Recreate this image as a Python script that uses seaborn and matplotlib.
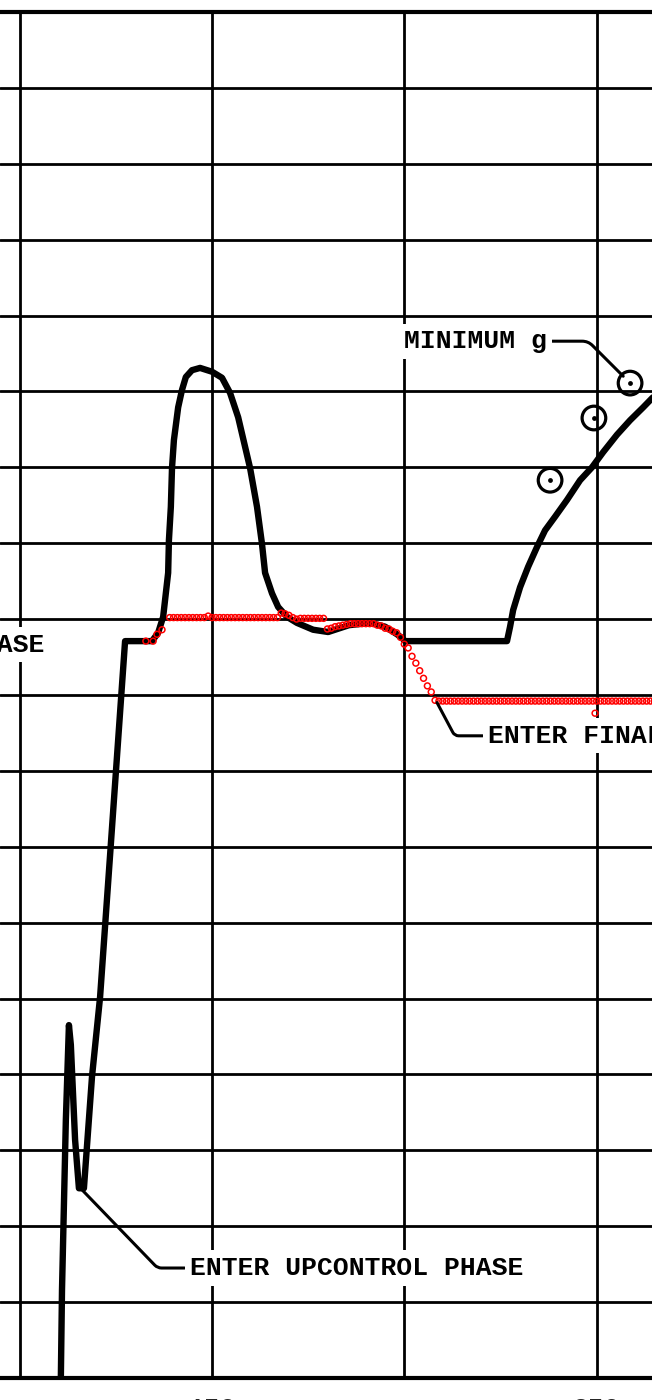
import numpy as np
import seaborn as sns
import matplotlib
matplotlib.use("Agg")
import matplotlib.pyplot as plt

# black trace (time, value)
trace_t = [110.7, 111.0, 112.0, 112.8, 113.3, 114.4, 115.4, 116.7, 118.8, 120.9,
           123.5, 125.6, 127.4, 134.4, 136.0, 137.3, 138.6, 138.8, 139.3, 139.6,
           140.1, 141.2, 142.2, 143.2, 144.8, 146.9, 150.0, 152.6, 154.7, 156.8,
           159.9, 161.7, 163.0, 163.8, 165.6, 167.2, 169.5, 172.1, 176.3, 180.2,
           185.6, 191.1, 195.0, 198.1, 199.4, 200.2, 226.7, 227.5, 228.3, 230.1,
           232.2, 234.5, 236.6, 239.2, 242.3, 245.7, 248.8, 251.7, 255.3, 258.7,
           262.1, 264.4, 266.0]
trace_y = [0.0, 1.16, 3.40, 4.65, 4.39, 3.14, 2.50, 2.50, 3.97, 5.02,
           6.89, 8.41, 9.71, 9.71, 9.82, 10.03, 10.61, 11.04, 11.48, 11.99,
           12.36, 12.79, 13.02, 13.19, 13.28, 13.31, 13.26, 13.18, 12.98, 12.66,
           11.99, 11.48, 10.99, 10.61, 10.34, 10.16, 10.03, 9.95, 9.86, 9.83,
           9.92, 9.95, 9.90, 9.80, 9.75, 9.71, 9.71, 9.90, 10.12, 10.42,
           10.69, 10.95, 11.17, 11.35, 11.57, 11.83, 12.00, 12.20, 12.43, 12.62,
           12.79, 12.91, 12.99]

red_t = [132.8, 134.7, 135.7, 137.0,
         139, 140, 141, 142, 143, 144, 145, 146, 147, 148, 149, 150, 151, 152,
         153, 154, 155, 156, 157, 158, 159, 160, 161, 162, 163, 164, 165, 166, 167,
         168, 169, 170, 171, 172, 173, 174, 175, 176, 177, 178, 179,
         180, 181, 182, 183, 184, 185, 186, 187, 188, 189, 190, 191, 192, 193,
         194, 195, 196, 197, 198, 199, 200, 201, 202, 203, 204, 205, 206, 207, 208,
         209, 210, 211, 212, 213, 214, 215, 216, 217, 218, 219, 220, 221, 222,
         223, 224, 225, 226, 227, 228, 229, 230, 231, 232, 233, 234, 235, 236,
         237, 238, 239, 240, 241, 242, 243, 244, 245, 246, 247, 248, 249, 250,
         251, 252, 253, 254, 255, 256, 257, 258, 259, 260, 261, 262, 263, 264, 265,
         249.6]
red_y = [9.71, 9.71, 9.80, 9.86,
         10.02, 10.02, 10.02, 10.02, 10.02, 10.02, 10.02, 10.02, 10.02, 10.02,
         10.04, 10.02, 10.02, 10.02, 10.02, 10.02, 10.02, 10.02, 10.02, 10.02,
         10.02, 10.02, 10.02, 10.02, 10.02, 10.02, 10.02, 10.02, 10.02,
         10.08, 10.07, 10.05, 10.02, 10.00, 10.01, 10.01, 10.01, 10.01, 10.01,
         10.01, 10.01,
         9.87, 9.88, 9.90, 9.91, 9.92, 9.93, 9.94, 9.94, 9.94, 9.94, 9.94, 9.94,
         9.94, 9.92, 9.91, 9.88, 9.87, 9.84, 9.82, 9.76, 9.67, 9.62, 9.51, 9.42,
         9.32, 9.22, 9.12, 9.04, 8.93,
         8.92, 8.92, 8.92, 8.92, 8.92, 8.92, 8.92, 8.92, 8.92, 8.92, 8.92, 8.92,
         8.92, 8.92, 8.92, 8.92, 8.92, 8.92, 8.92, 8.92, 8.92, 8.92, 8.92, 8.92,
         8.92, 8.92, 8.92, 8.92, 8.92, 8.92, 8.92, 8.92, 8.92, 8.92, 8.92, 8.92,
         8.92, 8.92, 8.92, 8.92, 8.92, 8.92, 8.92, 8.92, 8.92, 8.92, 8.92, 8.92,
         8.92, 8.92, 8.92, 8.92, 8.92, 8.92, 8.92, 8.92, 8.92,
         8.76]

# flight points (circle with dot)
flight_t = [237.9, 249.3, 258.7]
flight_y = [11.83, 12.65, 13.11]

x_ticks = [100, 150, 200, 250]
x_labels = ["", "150", "", "250"]

sns.set_style("white")
plt.rcParams["font.family"] = ["Liberation Mono", "DejaVu Sans Mono"]

fig = plt.figure(figsize=(6.52, 14), dpi=100)
ax = fig.add_axes([0, 22 / 1400, 1, 1366 / 1400])

sns.lineplot(x=trace_t, y=trace_y, sort=False, estimator=None, color="black",
             lw=4.6, ax=ax, zorder=3, solid_joinstyle="round", solid_capstyle="round")
sns.scatterplot(x=red_t, y=red_y, marker="o", s=18, facecolor="none",
                edgecolor="red", linewidth=1.1, ax=ax, zorder=4)
sns.scatterplot(x=flight_t, y=flight_y, marker="o", s=290, facecolor="none",
                edgecolor="black", linewidth=2.3, ax=ax, zorder=5)
sns.scatterplot(x=flight_t, y=flight_y, marker="o", s=12, color="black",
                linewidth=0, ax=ax, zorder=5)

ax.set_xlim(94.88, 264.40)
ax.set_ylim(0, 18)
ax.set_xticks(x_ticks)
ax.set_xticklabels(x_labels, fontsize=19, fontweight="bold")
ax.set_yticks(np.arange(0, 19))
ax.set_yticklabels([])
ax.tick_params(length=0, pad=13.8)
ax.grid(True, color="black", lw=2.0)
ax.set_axisbelow(True)
for side in ["left", "right"]:
    ax.spines[side].set_visible(False)
for side in ["top", "bottom"]:
    ax.spines[side].set_linewidth(3.0)
    ax.spines[side].set_color("black")
ax.set_xlabel("")
ax.set_ylabel("")

txt = dict(fontsize=19, fontweight="bold", color="black")
box = dict(facecolor="white", edgecolor="none", pad=4)
lead = dict(arrowstyle="-", color="black", lw=2.2, shrinkA=0)

ax.annotate("MINIMUM g", xy=(258.7, 13.11), xytext=(199.9, 13.57),
            ha="left", va="baseline", bbox=box, zorder=6,
            arrowprops=dict(lead, shrinkB=7,
                            connectionstyle="angle,angleA=0,angleB=135,rad=6"),
            **txt)
ax.annotate("ENTER FINAL PHASE", xy=(208.5, 8.90), xytext=(221.8, 8.37),
            ha="left", va="baseline", bbox=box, zorder=6, annotation_clip=False,
            arrowprops=dict(lead, shrinkB=0,
                            connectionstyle="angle,angleA=0,angleB=118,rad=4"),
            **txt)
ax.annotate("ENTER UPCONTROL PHASE", xy=(116.2, 2.48), xytext=(144.3, 1.357),
            ha="left", va="baseline", bbox=box, zorder=6,
            arrowprops=dict(lead, shrinkB=0,
                            connectionstyle="angle,angleA=0,angleB=-46,rad=4"),
            **txt)
ax.text(106.6, 9.57, "PHASE", ha="right", va="baseline", bbox=box, zorder=6, **txt)

fig.savefig("out.png", dpi=100)
